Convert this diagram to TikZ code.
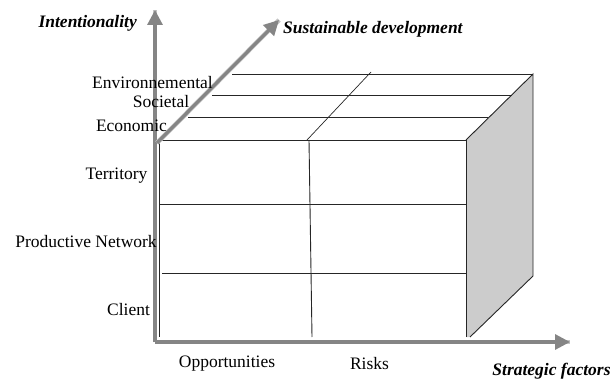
\documentclass[tikz,border=0pt]{standalone}
\usepackage{fontspec}
\setmainfont{Liberation Serif}
\usetikzlibrary{arrows.meta}
\definecolor{axisgray}{HTML}{858585}
\definecolor{axisedge}{HTML}{C4C4C4}
\definecolor{facegray}{HTML}{CCCCCC}
\tikzset{
  axisline/.style={draw=axisgray, line width=3.2pt,
    -{Triangle[length=15pt,width=15pt,fill=axisgray]}, preaction={draw=axisedge, line width=4.6pt,-}},
  cubeline/.style={draw=black!85, line width=0.9pt},
  lbl/.style={font=\fontsize{17.5}{20}\selectfont, inner sep=0pt},
  axlbl/.style={font=\fontsize{17.5}{20}\selectfont\bfseries\itshape, inner sep=0pt}
}
\begin{document}
\begin{tikzpicture}[x=1pt,y=-1pt]
\useasboundingbox (0,0) rectangle (613,379);
% cube coordinates
\coordinate (A) at (159,140);
\coordinate (B) at (466,140);
\coordinate (C) at (466,337);
\coordinate (D) at (159,337);
\coordinate (BR) at (533,74);
\coordinate (BL) at (232,74);
\coordinate (RB) at (533,276);
\coordinate (CR) at (470,337);
\coordinate (M1) at (309,140);
\coordinate (M2) at (312,337);
\coordinate (T1) at (307,140);
\coordinate (T2) at (371,72);
\coordinate (H1a) at (159,204);
\coordinate (H1b) at (466,204);
\coordinate (H2a) at (162,273);
\coordinate (H2b) at (466,273);
\coordinate (S1a) at (212,95);
\coordinate (S1b) at (512,95);
\coordinate (S2a) at (188,117);
\coordinate (S2b) at (488,117);
% right face
\fill[facegray] (B) -- (BR) -- (RB) -- (CR) -- (C) -- cycle;
\draw[cubeline] (B) -- (BR) -- (RB) -- (CR);
% front face
\draw[cubeline] (A) -- (B) -- (C);
\draw[cubeline] (A) -- (D);
\draw[cubeline] (M1) -- (M2);
\draw[cubeline] (H1a) -- (H1b);
\draw[cubeline] (H2a) -- (H2b);
% top face
\draw[cubeline] (BL) -- (BR);
\draw[cubeline] (S1a) -- (S1b);
\draw[cubeline] (S2a) -- (S2b);
\draw[cubeline, line width=0.7pt] (T1) -- (T2);
% axes
\coordinate (O) at (155,342);
\coordinate (Vtip) at (155,10);
\coordinate (Htip) at (570,342);
\coordinate (Dstart) at (157,143);
\coordinate (Dtip) at (279,20);
\draw[axisline] (O) -- (Vtip);
\draw[axisline] (O) -- (Htip);
\draw[axisline] (Dstart) -- (Dtip);
% labels
\node[axlbl, anchor=east] (intent) at (137,23) {Intentionality};
\node[axlbl, anchor=west] (sust) at (283,29) {Sustainable development};
\node[axlbl] (strat) at (551.5,371) {Strategic factors};
\node[lbl] (env) at (152.5,83) {Environnemental};
\node[lbl] (soc) at (161,102) {Societal};
\node[lbl] (eco) at (131.5,126) {Economic};
\node[lbl] (terr) at (116.5,176) {Territory};
\node[lbl] (prod) at (86,242) {Productive Network};
\node[lbl] (client) at (128.5,310) {Client};
\node[lbl] (opp) at (227,364) {Opportunities};
\node[lbl] (risks) at (369.5,364) {Risks};
\end{tikzpicture}
\end{document}
